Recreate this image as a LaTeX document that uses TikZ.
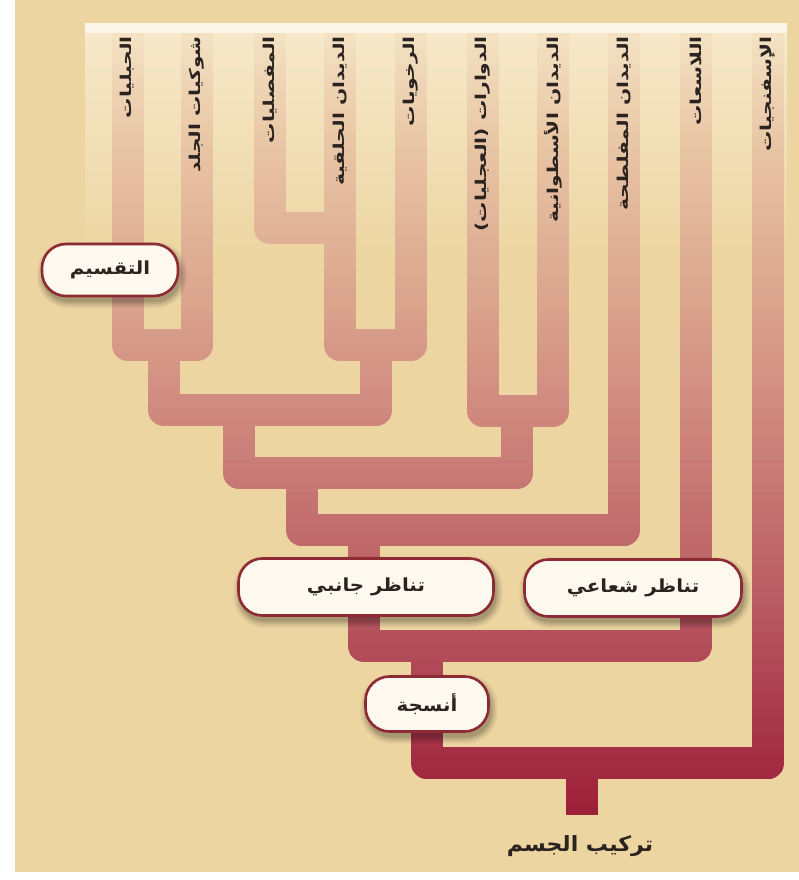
\documentclass[tikz,border=0pt]{standalone}
\usepackage{fontspec}
\usepackage{graphicx}
\TeXXeTstate=1
\newfontfamily\arabicfont[Script=Arabic]{DejaVu Sans}
\usetikzlibrary{calc}

\definecolor{bgbeige}{HTML}{ECD5A1}
\definecolor{bgcream}{HTML}{F6E8C9}
\definecolor{bgstrip}{HTML}{FBF6E9}
\definecolor{tc0}{HTML}{F3E2C3}
\definecolor{tc1}{HTML}{E8C5A4}
\definecolor{tc2}{HTML}{DBA58E}
\definecolor{tc3}{HTML}{CB8079}
\definecolor{tc4}{HTML}{BA5C63}
\definecolor{tc5}{HTML}{A93C4E}
\definecolor{tc6}{HTML}{9D1F38}
\definecolor{boxedge}{HTML}{8E2A33}
\definecolor{boxfill}{HTML}{FDF9EF}
\definecolor{inkc}{HTML}{2A2320}

\tikzset{
  leaflabel/.style={rotate=90, anchor=east, inner sep=0pt, text=inkc,
    font=\arabicfont\bfseries\fontsize{15}{17}\selectfont},
  cbox/.style={draw=boxedge, line width=2.6pt, fill=boxfill, rounded corners=24pt,
    inner sep=0pt, text=inkc, font=\arabicfont\bfseries\fontsize{18}{20}\selectfont},
  treeline/.style={line width=32pt, line join=round, line cap=butt},
}

% tree strokes, drawn from named coordinates
\newcommand\treestrokes[1]{%
  \draw[treeline,#1]
    (A) -- (A |- jAB) -- (B |- jAB) -- (B)
    (C) -- (C |- jCD) -- (D |- jCD)
    (D) -- (D |- jDE) -- (E |- jDE) -- (E)
    (s1) -- (s1 |- j4) -- (s2 |- j4) -- (s2)
    (F) -- (F |- jFG) -- (G |- jFG) -- (G)
    (s3) -- (s3 |- j6) -- (s4 |- j6) -- (s4)
    (s5) -- (s5 |- j7) -- (H |- j7) -- (H)
    (s6) -- (s6 |- j8) -- (I |- j8) -- (I)
    (s7) -- (s7 |- j9) -- (J |- j9) -- (J)
    (s8) -- (root);
}

% rounded label box with soft shadow
\newcommand\cboxat[6]{%
  \foreach \e/\o in {7/0.05,5/0.07,3/0.09,1/0.10}{
    \pgfmathsetmacro\rr{24+\e}
    \fill[black, opacity=\o, rounded corners=\rr pt]
      ({#2+2-#4/2-\e},{#3+5-#5/2-\e}) rectangle ({#2+2+#4/2+\e},{#3+5+#5/2+\e});
  }
  \node[cbox, minimum width=#4, minimum height=#5] (#1) at (#2,#3) {\scalebox{1.1}[1]{#6}};
}

\begin{document}
\begin{tikzpicture}[x=1pt, y=-1pt]
\useasboundingbox (0,0) rectangle (799,880);

% background
\fill[white] (0,0) rectangle (799,880);
\fill[bgbeige] (15,0) rectangle (799,872);
\shade[top color=bgcream, bottom color=bgbeige] (85,33) rectangle (787,260);
\fill[bgstrip] (85,23) rectangle (787,33);

% leaf tops
\coordinate (A) at (128,33);
\coordinate (B) at (197,33);
\coordinate (C) at (270,33);
\coordinate (D) at (340,33);
\coordinate (E) at (411,33);
\coordinate (F) at (483,33);
\coordinate (G) at (553,33);
\coordinate (H) at (624,33);
\coordinate (I) at (696,33);
\coordinate (J) at (768,33);
% join levels
\coordinate (jCD) at (0,228);
\coordinate (jAB) at (0,345);
\coordinate (jDE) at (0,345);
\coordinate (j4) at (0,410);
\coordinate (jFG) at (0,411);
\coordinate (j6) at (0,473);
\coordinate (j7) at (0,530);
\coordinate (j8) at (0,646);
\coordinate (j9) at (0,763);
% stems (start points)
\coordinate (s1) at (164,345);
\coordinate (s2) at (376,345);
\coordinate (s3) at (239,410);
\coordinate (s4) at (517,411);
\coordinate (s5) at (302,473);
\coordinate (s6) at (364,530);
\coordinate (s7) at (427,646);
\coordinate (s8) at (582,763);
\coordinate (root) at (582,815);

% tree with vertical colour gradient (drawn in thin bands)
\foreach \ya/\yb/\ca/\cb in {33/150/tc0/tc1,150/300/tc1/tc2,300/450/tc2/tc3,450/600/tc3/tc4,600/710/tc4/tc5,710/816/tc5/tc6}{
  \foreach \k in {0,...,13}{
    \pgfmathsetmacro\yy{\ya+(\yb-\ya)*\k/14-0.7}
    \pgfmathsetmacro\yz{\ya+(\yb-\ya)*(\k+1)/14+0.7}
    \pgfmathtruncatemacro\pp{100-100*(\k+0.5)/14}
    \begin{scope}
      \clip (0,\yy) rectangle (799,\yz);
      \treestrokes{color=\ca!\pp!\cb}
    \end{scope}
  }
}

% leaf labels
\node[leaflabel] (lA) at (127,36) {\scalebox{1.35}[1]{\beginR الحبليات\endR}};
\node[leaflabel] (lB) at (197,36) {\scalebox{1.35}[1]{\beginR شوكيات الجلد\endR}};
\node[leaflabel] (lC) at (270,36) {\scalebox{1.35}[1]{\beginR المفصليات\endR}};
\node[leaflabel] (lD) at (340,36) {\scalebox{1.35}[1]{\beginR الديدان الحلقية\endR}};
\node[leaflabel] (lE) at (411,36) {\scalebox{1.35}[1]{\beginR الرخويات\endR}};
\node[leaflabel] (lF) at (483,36) {\scalebox{1.35}[1]{\beginR الدوارات (العجليات)\endR}};
\node[leaflabel] (lG) at (553,36) {\scalebox{1.35}[1]{\beginR الديدان الأسطوانية\endR}};
\node[leaflabel] (lH) at (624,36) {\scalebox{1.35}[1]{\beginR الديدان المفلطحة\endR}};
\node[leaflabel] (lI) at (696,36) {\scalebox{1.35}[1]{\beginR اللاسعات\endR}};
\node[leaflabel] (lJ) at (768,36) {\scalebox{1.35}[1]{\beginR الإسفنجيات\endR}};

% trait boxes
\cboxat{seg}{110}{270}{136}{52}{\beginR التقسيم\endR}
\cboxat{bilat}{366}{587}{255}{57}{\beginR تناظر جانبي\endR}
\cboxat{radial}{633}{588}{217}{57}{\beginR تناظر شعاعي\endR}
\cboxat{tissue}{427}{704}{123}{55}{\beginR أنسجة\endR}

% root label
\node[text=inkc, font=\arabicfont\bfseries\fontsize{21}{24}\selectfont] (body) at (580,846) {\scalebox{1.05}[1]{\beginR تركيب الجسم\endR}};
\end{tikzpicture}
\end{document}
